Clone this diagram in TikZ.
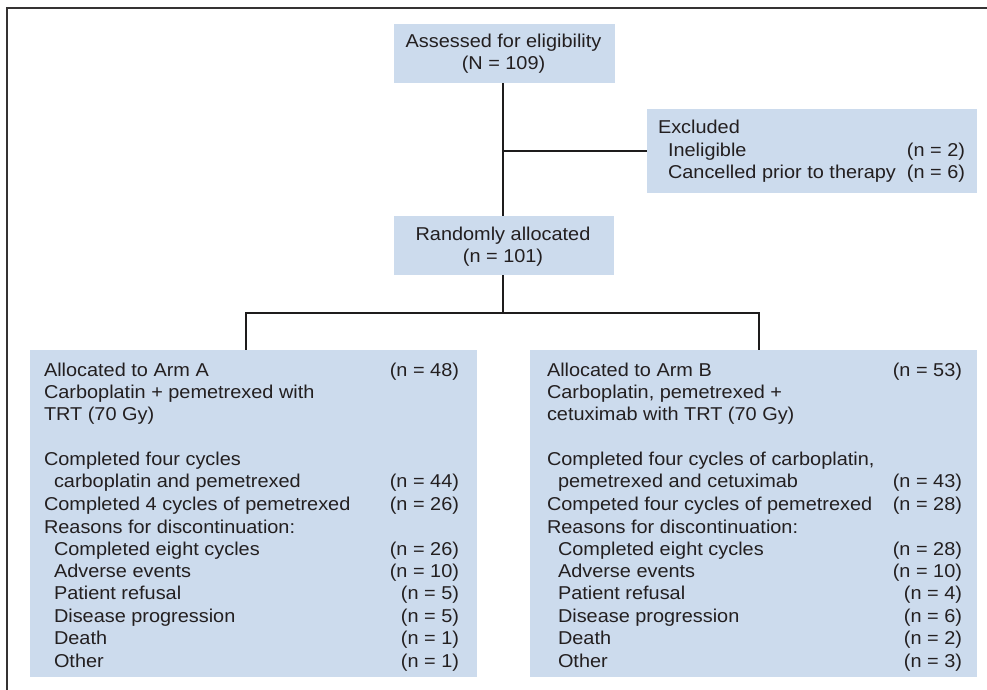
\documentclass[tikz,border=0pt]{standalone}
\usepackage{fontspec}
\setmainfont{Liberation Sans}[FakeStretch=1.07]
\definecolor{boxfill}{RGB}{204,219,237}
\definecolor{textc}{RGB}{35,31,32}
\definecolor{linec}{RGB}{30,28,28}
\tikzset{
  box/.style={draw=none,fill=boxfill,inner sep=0pt,rectangle},
  txt/.style={inner sep=0pt,outer sep=0pt,text=textc,font=\fontsize{18.6}{22}\selectfont},
  conn/.style={draw=linec,line width=2pt},
  frameline/.style={draw=linec!90,line width=1.8pt},
}
\newcommand\LT[4]{\node[txt,anchor=base west] (#1) at (#2,#3) {#4};}
\newcommand\RT[4]{\node[txt,anchor=base east] (#1) at (#2,#3) {#4};}
\newcommand\CT[4]{\node[txt,anchor=base] (#1) at (#2,#3) {#4};}
\begin{document}
\begin{tikzpicture}[x=1pt,y=-1pt]
\useasboundingbox (0,0) rectangle (987,690);
\draw[frameline] (7,690) -- (7,8) -- (987,8);
% boxes
\node[box,minimum width=221pt,minimum height=59pt] (top) at (504,53.5) {};
\node[box,minimum width=330pt,minimum height=84pt] (excl) at (812,151) {};
\node[box,minimum width=220pt,minimum height=59pt] (rand) at (503.5,245.5) {};
\node[box,minimum width=447pt,minimum height=327pt] (armA) at (253.5,513.5) {};
\node[box,minimum width=447pt,minimum height=327pt] (armB) at (753.5,513.5) {};
% connectors
\coordinate (split) at (503,313);
\coordinate (cA) at (246,313);
\coordinate (cB) at (759,313);
\draw[conn] (top.south -| split) -- (rand.north -| split);
\draw[conn] (split |- excl.west) -- (excl.west);
\draw[conn] (rand.south -| split) -- (split);
\draw[conn] (cA |- armA.north) -- (cA) -- (cB) -- (cB |- armB.north);
% top texts
\CT{t1}{503.5}{48}{Assessed for eligibility}
\CT{t2}{503.5}{70}{(N = 109)}
\LT{e1}{658}{133}{Excluded}
\LT{e2}{668}{156}{Ineligible}
\RT{e2n}{965}{156}{(n = 2)}
\LT{e3}{668}{178}{Cancelled prior to therapy}
\RT{e3n}{965}{178}{(n = 6)}
\CT{r1}{503}{240}{Randomly allocated}
\CT{r2}{503}{262}{(n = 101)}
% arm A
\LT{a1}{44}{376}{Allocated to Arm A}
\RT{a1n}{459}{376}{(n = 48)}
\LT{a2}{44}{398}{Carboplatin + pemetrexed with}
\LT{a3}{44}{420}{TRT (70 Gy)}
\LT{a4}{44}{465}{Completed four cycles}
\LT{a5}{54}{487}{carboplatin and pemetrexed}
\RT{a5n}{459}{487}{(n = 44)}
\LT{a6}{44}{510}{Completed 4 cycles of pemetrexed}
\RT{a6n}{459}{510}{(n = 26)}
\LT{a7}{44}{533}{Reasons for discontinuation:}
\LT{a8}{54}{555}{Completed eight cycles}
\RT{a8n}{459}{555}{(n = 26)}
\LT{a9}{54}{577}{Adverse events}
\RT{a9n}{459}{577}{(n = 10)}
\LT{a10}{54}{599}{Patient refusal}
\RT{a10n}{459}{599}{(n = 5)}
\LT{a11}{54}{622}{Disease progression}
\RT{a11n}{459}{622}{(n = 5)}
\LT{a12}{54}{644}{Death}
\RT{a12n}{459}{644}{(n = 1)}
\LT{a13}{54}{667}{Other}
\RT{a13n}{459}{667}{(n = 1)}
% arm B
\LT{b1}{547}{376}{Allocated to Arm B}
\RT{b1n}{962}{376}{(n = 53)}
\LT{b2}{547}{398}{Carboplatin, pemetrexed +}
\LT{b3}{547}{420}{cetuximab with TRT (70 Gy)}
\LT{b4}{547}{465}{Completed four cycles of carboplatin,}
\LT{b5}{558}{487}{pemetrexed and cetuximab}
\RT{b5n}{962}{487}{(n = 43)}
\LT{b6}{547}{510}{Competed four cycles of pemetrexed}
\RT{b6n}{962}{510}{(n = 28)}
\LT{b7}{547}{533}{Reasons for discontinuation:}
\LT{b8}{558}{555}{Completed eight cycles}
\RT{b8n}{962}{555}{(n = 28)}
\LT{b9}{558}{577}{Adverse events}
\RT{b9n}{962}{577}{(n = 10)}
\LT{b10}{558}{599}{Patient refusal}
\RT{b10n}{962}{599}{(n = 4)}
\LT{b11}{558}{622}{Disease progression}
\RT{b11n}{962}{622}{(n = 6)}
\LT{b12}{558}{644}{Death}
\RT{b12n}{962}{644}{(n = 2)}
\LT{b13}{558}{667}{Other}
\RT{b13n}{962}{667}{(n = 3)}
\end{tikzpicture}
\end{document}
